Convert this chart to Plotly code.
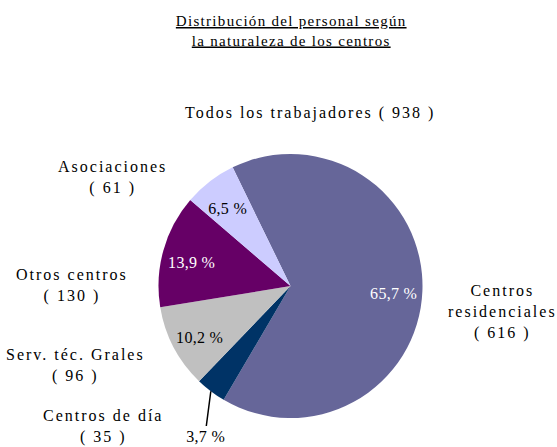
import math
import plotly.graph_objects as go

# Staff distribution by type of centre
categories = ["Centros residenciales", "Centros de día", "Serv. téc. Grales",
              "Otros centros", "Asociaciones"]
label_names = ["Centros<br>residenciales", "Centros de día", "Serv. téc. Grales",
               "Otros centros", "Asociaciones"]
values = [616, 35, 96, 130, 61]
total_label = "Todos los trabajadores"

colors = ["#666699", "#003366", "#C0C0C0", "#660066", "#CCCCFF"]
pct_colors = ["white", "black", "black", "white", "black"]

W, H = 557, 447
total = sum(values)
pcts = [v / total * 100 for v in values]
pct_txt = [f"{p:.1f}".replace(".", ",") + " %" for p in pcts]

# pie geometry (pixels)
cx, cy, r = 290.5, 286.0, 132.0
rotation = -26

FONT = "Liberation Serif"

fig = go.Figure(go.Pie(
    labels=categories,
    values=values,
    textinfo="none",
    marker=dict(colors=colors, line=dict(width=0)),
    sort=False,
    direction="clockwise",
    rotation=rotation,
    showlegend=False,
    hoverinfo="label+value+percent",
    domain=dict(x=[(cx - r) / W, (cx + r) / W], y=[1 - (cy + r) / H, 1 - (cy - r) / H]),
))


def px(x):
    return x / W


def py(y):
    return 1 - y / H


annotations = []

# title
annotations.append(dict(
    x=px(291), y=py(31), xref="paper", yref="paper", showarrow=False,
    text="<u>Distribución del personal según</u><br><u>la naturaleza de los centros</u>",
    font=dict(family=FONT, size=15, color="black"), xanchor="center", yanchor="middle",
))
annotations.append(dict(
    x=px(310), y=py(113), xref="paper", yref="paper", showarrow=False,
    text=f"{total_label} ( {total} )",
    font=dict(family=FONT, size=16, color="black"), xanchor="center", yanchor="middle",
))

# category labels with counts
label_pos = [(502, 312), (103, 426), (75, 365), (72, 285), (112, 177)]
for name, v, (lx, ly) in zip(label_names, values, label_pos):
    annotations.append(dict(
        x=px(lx), y=py(ly), xref="paper", yref="paper", showarrow=False,
        text=f"{name}<br>( {v} )",
        font=dict(family=FONT, size=16, color="black"), xanchor="center", yanchor="middle",
    ))

# percentage labels, placed along each slice's mid angle
angle = rotation
for i, p in enumerate(pcts):
    span = p * 3.6
    mid = math.radians(angle + span / 2)
    angle += span
    if i == 1:
        # the small "día" slice: value outside with a leader line from the rim
        tip_x = cx + r * math.sin(mid)
        tip_y = cy - r * math.cos(mid)
        annotations.append(dict(
            x=px(tip_x), y=py(tip_y), xref="paper", yref="paper",
            text=pct_txt[i], showarrow=True, arrowhead=0, arrowwidth=1.5,
            arrowcolor="black", ax=205 - tip_x, ay=436 - tip_y,
            font=dict(family=FONT, size=16, color="black"),
        ))
        continue
    rr = 0.78 * r
    annotations.append(dict(
        x=px(cx + rr * math.sin(mid)), y=py(cy - rr * math.cos(mid)),
        xref="paper", yref="paper", showarrow=False, text=pct_txt[i],
        font=dict(family=FONT, size=16, color=pct_colors[i]),
        xanchor="center", yanchor="middle", yshift=-4,
    ))

fig.update_layout(
    width=W, height=H,
    margin=dict(l=0, r=0, t=0, b=0),
    paper_bgcolor="white", plot_bgcolor="white",
    annotations=annotations,
)

spacing_js = """
var gd = document.getElementById('{plot_id}');
function spaceText(){
  gd.querySelectorAll('.annotation-text').forEach(function(t){
    var s = t.textContent;
    if (s.indexOf('%') >= 0) { t.style.letterSpacing = '0.3px'; }
    else if (s.indexOf('Distribuci') >= 0) { t.style.letterSpacing = '1.3px'; }
    else { t.style.letterSpacing = '2px'; }
  });
}
spaceText();
gd.on('plotly_afterplot', spaceText);
"""

fig.write_html("out.html", post_script=spacing_js)
